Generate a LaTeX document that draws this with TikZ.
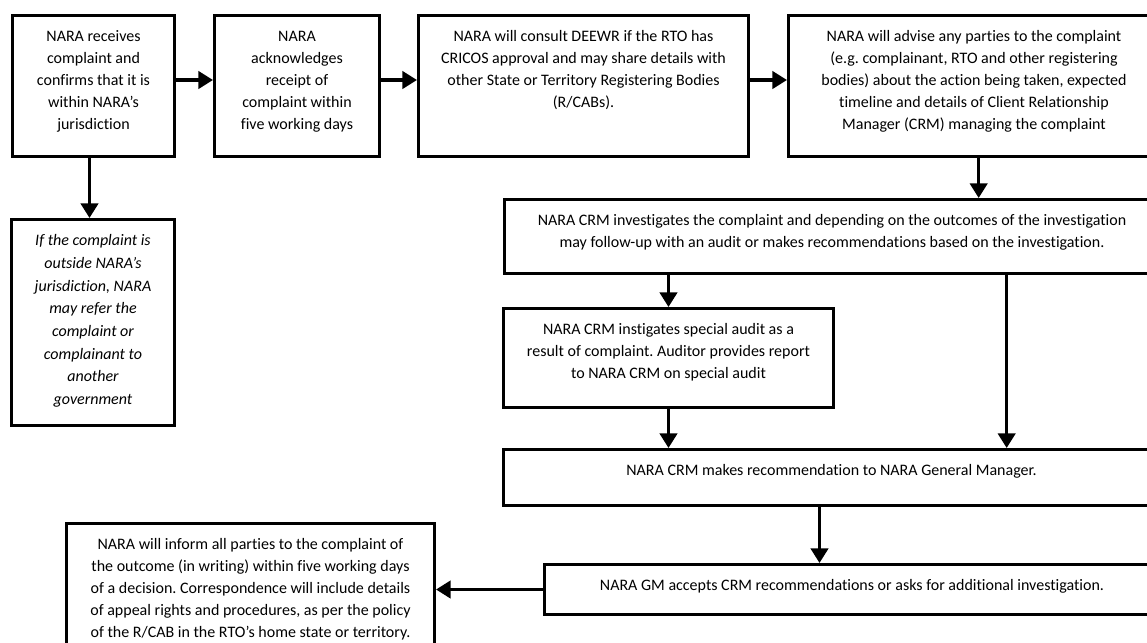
\documentclass[tikz,border=0pt]{standalone}
\usepackage{fontspec}
\setmainfont{Carlito}[Ligatures=NoCommon]
\usepackage{xcolor}
\usepackage{tikz}
\usetikzlibrary{arrows.meta}
\definecolor{ink}{HTML}{000000}
\definecolor{paper}{HTML}{FFFFFF}
\frenchspacing
\tikzset{
  box/.style={draw=ink, line width=2.25pt, inner sep=0pt, anchor=north west, font=\fontsize{12}{16.5}\selectfont},
  boxi/.style={box, font=\fontsize{12}{17}\selectfont\itshape},
  arr/.style={draw=ink, line width=2.5pt, -{Triangle[length=11pt,width=13pt]}},
}
\newcommand{\boxtxt}[3]{\parbox[c][#2][t]{#1}{\centering\vspace*{11.5pt}#3\par}}

\begin{document}
\begin{tikzpicture}[x=0.75pt, y=-0.75pt]
  \path[use as bounding box, fill=paper] (0,0) rectangle (1147,643);
  % top row
  \node[box] (recv) at (11,14) {\boxtxt{121.5pt}{105.75pt}{NARA receives\\ complaint and\\ confirms that it is\\ within NARA’s\\ jurisdiction}};
  \node[box] (ack) at (213,14) {\boxtxt{123.75pt}{105.75pt}{NARA\\ acknowledges\\ receipt of\\ complaint within\\ five working days}};
  \node[box] (consult) at (417,14) {\boxtxt{247.5pt}{105.75pt}{NARA will consult DEEWR if the RTO has\\ CRICOS approval and may share details with\\ other State or Territory Registering Bodies\\ (R/CABs).}};
  \node[box] (advise) at (787,14) {\boxtxt{278.25pt}{105.75pt}{NARA will advise any parties to the complaint\\ (e.g. complainant, RTO and other registering\\ bodies) about the action being taken, expected\\ timeline and details of Client Relationship\\ Manager (CRM) managing the complaint}};
  % side branch
  \node[boxi] (outside) at (10,218) {\boxtxt{122.25pt}{154.5pt}{If the complaint is\\ outside NARA’s\\ jurisdiction, NARA\\ may refer the\\ complaint or\\ complainant to\\ another\\ government}};
  % investigation and outcome
  \node[box] (invest) at (503,198) {\boxtxt{491.25pt}{55.5pt}{NARA CRM investigates the complaint and depending on the outcomes of the investigation\\ may follow-up with an audit or makes recommendations based on the investigation.}};
  \node[box] (audit) at (502,307) {\boxtxt{247.5pt}{74.25pt}{NARA CRM instigates special audit as a\\ result of complaint. Auditor provides report\\ to NARA CRM on special audit}};
  \node[box] (recom) at (502,448) {\boxtxt{492pt}{42pt}{NARA CRM makes recommendation to NARA General Manager.}};
  \node[box] (gm) at (543,563) {\boxtxt{461.25pt}{37.5pt}{NARA GM accepts CRM recommendations or asks for additional investigation.}};
  \node[box] (inform) at (65,522) {\boxtxt{276pt}{105pt}{NARA will inform all parties to the complaint of\\ the outcome (in writing) within five working days\\ of a decision. Correspondence will include details\\ of appeal rights and procedures, as per the policy\\ of the R/CAB in the RTO’s home state or territory.}};
  % connectors
  \draw[arr] ([yshift=4.5pt]recv.east) -- ([yshift=4.5pt]ack.west);
  \draw[arr] ([yshift=4.5pt]ack.east) -- ([yshift=4.5pt]consult.west);
  \draw[arr] ([yshift=4.5pt]consult.east) -- ([yshift=4.5pt]advise.west);
  \draw[arr] ([xshift=-3pt]recv.south) -- ([xshift=-3pt]recv.south |- outside.north);
  \draw[arr] ([xshift=3.5pt]advise.south) -- ([xshift=3.5pt]advise.south |- invest.north);
  \draw[arr] (audit.north |- invest.south) -- (audit.north);
  \draw[arr] ([xshift=131pt]invest.south) -- ([xshift=131pt]invest.south |- recom.north);
  \draw[arr] (audit.south) -- (audit.south |- recom.north);
  \draw[arr] ([xshift=-9pt]recom.south) -- ([xshift=-9pt]recom.south |- gm.north);
  \draw[arr] (gm.west) -- (gm.west -| inform.east);
\end{tikzpicture}
\end{document}
